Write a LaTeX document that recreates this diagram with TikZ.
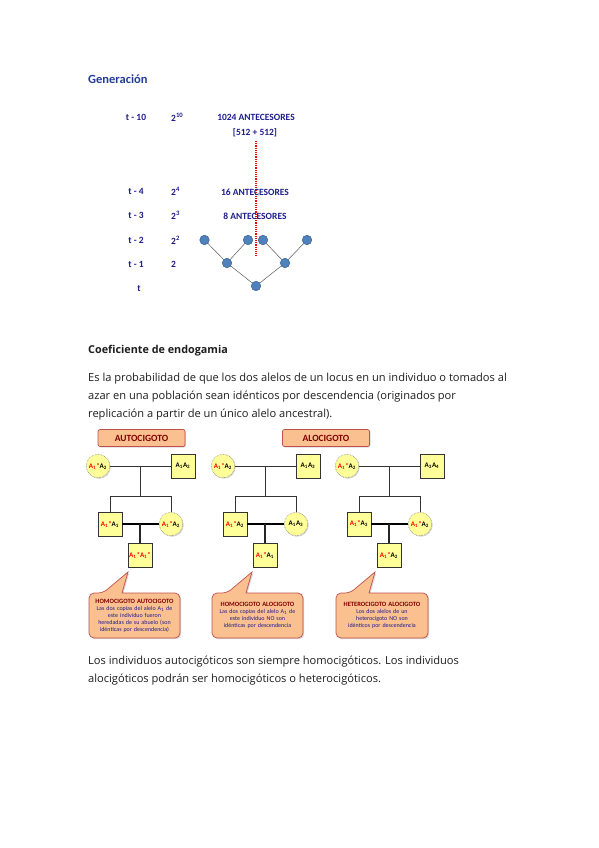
\documentclass[tikz,border=0pt]{standalone}
\usepackage{fontspec}
\setmainfont{Carlito}
\newfontfamily\bodyfont{Open Sans}
\usetikzlibrary{shadows}
\definecolor{navy}{RGB}{30,30,140}
\definecolor{genblue}{RGB}{35,60,150}
\definecolor{nodeblue}{RGB}{79,129,189}
\definecolor{nodeborder}{RGB}{56,93,138}
\definecolor{salmon}{RGB}{250,192,144}
\definecolor{salmonborder}{RGB}{192,80,77}
\definecolor{maroon}{RGB}{128,0,0}
\definecolor{pyellow}{RGB}{255,255,153}
\definecolor{textgray}{RGB}{30,30,30}
\tikzset{
  genlabel/.style={text=navy,font=\fontsize{9.5}{10}\selectfont\bfseries,inner sep=0pt},
  anc/.style={circle,fill=nodeblue,draw=nodeborder,line width=0.5pt,minimum size=9.5pt,inner sep=0pt},
  tree/.style={draw=gray!70!black,line width=0.5pt},
  sq/.style={rectangle,fill=pyellow,draw=black!80,line width=0.6pt,minimum size=24pt,inner sep=0pt,
    font=\fontsize{7}{7}\selectfont\bfseries,drop shadow={shadow xshift=1pt,shadow yshift=-1pt,opacity=0.35}},
  ci/.style={circle,fill=pyellow,draw=gray,densely dotted,line width=0.6pt,minimum size=23.5pt,inner sep=0pt,
    font=\fontsize{7}{7}\selectfont\bfseries,drop shadow={shadow xshift=1pt,shadow yshift=-1pt,opacity=0.3}},
  thinline/.style={draw=black!80,line width=0.9pt},
  thickline/.style={draw=black,line width=1.8pt},
  midline/.style={draw=black!85,line width=1.1pt},
  header/.style={rectangle,rounded corners=2pt,fill=salmon,draw=salmonborder,line width=0.7pt,
    minimum width=87pt,minimum height=17pt,text=maroon,font=\fontsize{9.5}{9.5}\selectfont\bfseries,
    drop shadow={shadow xshift=1pt,shadow yshift=-1pt,opacity=0.3}},
  callbox/.style={fill=salmon,draw=salmonborder,line width=0.7pt,
    drop shadow={shadow xshift=1.2pt,shadow yshift=-1.2pt,opacity=0.3}},
  calltext/.style={align=center,text width=90pt,inner sep=0pt,text=navy,font=\fontsize{6}{7}\selectfont},
  bodytext/.style={anchor=base west,inner sep=0pt,text=textgray,font=\bodyfont\fontsize{11.1}{12}\selectfont},
}
\newcommand{\al}[1]{A\textsubscript{#1}}
\newcommand{\ra}[1]{\textcolor{red}{A\textsubscript{#1}*}}
\newcommand{\pedig}[7]{%
 \begin{scope}[xshift=#2pt]
 \node[ci] (#1m) at (0,466) {#3};
 \node[sq] (#1f) at (85,466) {#4};
 \coordinate (#1j) at (42,466);
 \coordinate (#1k) at (42,496);
 \coordinate (#1l) at (12,496);
 \coordinate (#1r) at (73,496);
 \node[sq] (#1a) at (12,524) {#5};
 \node[ci] (#1b) at (73,524) {#6};
 \coordinate (#1q) at (42,524);
 \node[sq] (#1g) at (42,555) {#7};
 \draw[thinline] (#1m) -- (#1f);
 \draw[thinline] (#1j) -- (#1k);
 \draw[thinline,line cap=rect] (#1l) -- (#1r);
 \draw[thinline] (#1l) -- (#1a.north);
 \draw[thinline] (#1r) -- (#1b.north);
 \draw[thickline] (#1a) -- (#1b);
 \draw[midline] (#1q) -- (#1g);
 \end{scope}}
% #1 name, #2 left, #3 right, #4 apex x, #5 base x1, #6 base x2, #7 title, #8 body
\newcommand{\callout}[8]{%
 \coordinate (#1apex) at (#4,572);
 \path[callbox] (#5,593) -- (#1apex) -- (#6,593)
   [rounded corners=5pt] -- (#3,593) -- (#3,638) -- (#2,638) -- (#2,593) -- cycle;
 \node[calltext] (#1txt) at ({(#2+#3)/2},615.5) {{\color{maroon}\bfseries\fontsize{6.5}{7}\selectfont #7}\\#8};
}
\begin{document}
\begin{tikzpicture}[x=1pt,y=-1pt]
\useasboundingbox[fill=white] (0,0) rectangle (599,848);

% ---------- Generación ----------
\node[anchor=base west,inner sep=0pt,text=genblue,font=\fontsize{12.5}{13}\selectfont\bfseries] (gen) at (88,84) {Generación};

\node[genlabel] (t10) at (136,117.5) {t - 10};
\node[genlabel] (t4) at (136,191) {t - 4};
\node[genlabel] (t3) at (136,215) {t - 3};
\node[genlabel] (t2) at (136,240) {t - 2};
\node[genlabel] (t1) at (136,264) {t - 1};
\node[genlabel] (t0) at (139,289) {t};

\node[genlabel,anchor=west] (p10) at (171,117.5) {2\textsuperscript{10}};
\node[genlabel,anchor=west] (p4) at (171,191) {2\textsuperscript{4}};
\node[genlabel,anchor=west] (p3) at (171,215) {2\textsuperscript{3}};
\node[genlabel,anchor=west] (p2) at (171,240) {2\textsuperscript{2}};
\node[genlabel,anchor=west] (p1) at (171,264) {2};

\node[genlabel] (a1024) at (256,117.5) {1024 ANTECESORES};
\node[genlabel] (a512) at (255,133) {[512 + 512]};
\coordinate (dtop) at (255.7,141);
\coordinate (dbot) at (255.7,256);
\draw[red,dash pattern=on 1.2pt off 1pt,line width=1.6pt] (dtop) -- (dbot);
\node[genlabel] (a16) at (255,192) {16 ANTECESORES};
\node[genlabel] (a8) at (255,216.5) {8 ANTECESORES};

\node[anc] (n1) at (204.5,240) {};
\node[anc] (n2) at (248,240) {};
\node[anc] (n3) at (263,240) {};
\node[anc] (n4) at (307,240) {};
\node[anc] (n5) at (227,263) {};
\node[anc] (n6) at (285,263) {};
\node[anc] (n7) at (256,286) {};
\draw[tree] (n1) -- (n5);
\draw[tree] (n2) -- (n5);
\draw[tree] (n3) -- (n6);
\draw[tree] (n4) -- (n6);
\draw[tree] (n5) -- (n7);
\draw[tree] (n6) -- (n7);

% ---------- Coeficiente ----------
\node[bodytext,font=\bodyfont\fontsize{10.8}{12}\selectfont\bfseries] (coef) at (88,353) {Coeficiente de endogamia};
\node[bodytext] (l1) at (88,381.5) {Es la probabilidad de que los dos alelos de un locus en un individuo o tomados al};
\node[bodytext] (l2) at (88,399.5) {azar en una población sean idénticos por descendencia (originados por};
\node[bodytext] (l3) at (88,417.5) {replicación a partir de un único alelo ancestral).};

% ---------- Headers ----------
\node[header] (hauto) at (141.5,438) {AUTOCIGOTO};
\node[header] (halo) at (326,438) {ALOCIGOTO};

% ---------- Pedigrees ----------
\pedig{pa}{98}{\ra{1}\al{2}}{\al{1}\al{2}}{\ra{1}\al{1}}{\ra{1}\al{2}}{\textcolor{red}{\al{1}*\al{1}*}}
\pedig{pb}{223}{\ra{1}\al{2}}{\al{1}\al{3}}{\ra{1}\al{2}}{\al{1}\al{3}}{\ra{1}\al{1}}
\pedig{pc}{347}{\ra{1}\al{2}}{\al{3}\al{4}}{\ra{1}\al{3}}{\ra{1}\al{2}}{\ra{1}\al{2}}

% ---------- Callouts ----------
\callout{ca}{89}{180}{128}{103}{122}{HOMOCIGOTO AUTOCIGOTO}{Las dos copias del alelo A\textsubscript{1} de\\este individuo fueron\\heredadas de su abuelo (son\\idénticas por descendencia)}
\callout{cb}{212}{303}{252}{227}{246}{HOMOCIGOTO ALOCIGOTO}{Las dos copias del alelo A\textsubscript{1} de\\este individuo NO son\\idénticas por descendencia}
\callout{cc}{336}{428}{375}{350}{369}{HETEROCIGOTO ALOCIGOTO}{Los dos alelos de un\\heterocigoto NO son\\idénticos por descendencia}

% ---------- Bottom text ----------
\node[bodytext] (b1) at (88,664) {Los individuos autocigóticos son siempre homocigóticos. Los individuos};
\node[bodytext] (b2) at (88,682) {alocigóticos podrán ser homocigóticos o heterocigóticos.};
\end{tikzpicture}
\end{document}
